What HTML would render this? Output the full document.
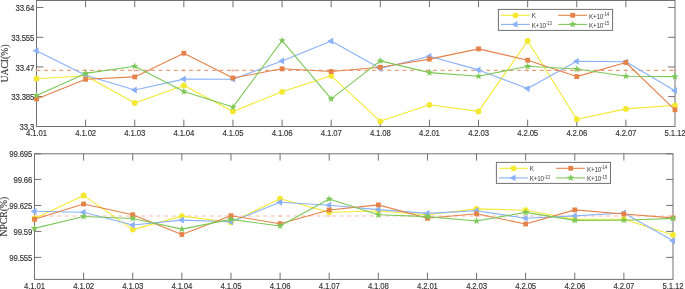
<!DOCTYPE html>
<html><head><meta charset="utf-8"><title>UACI / NPCR</title>
<style>html,body{margin:0;padding:0;background:#fff;}body{width:685px;height:289px;overflow:hidden;}svg{display:block;}</style>
</head><body>
<svg width="685" height="289" viewBox="0 0 685 289">
<style>
.t{font-family:"Liberation Sans",Arial,sans-serif;font-size:7.8px;letter-spacing:-0.15px;fill:#333333;stroke:#333333;stroke-width:0.12px;}
.yl{font-family:"Liberation Serif","Times New Roman",serif;font-size:9.7px;fill:#333333;stroke:#333333;stroke-width:0.15px;}
.lg{font-family:"Liberation Sans",Arial,sans-serif;font-size:6.3px;fill:#3a3a3a;letter-spacing:-0.2px;}
.sp{font-size:4.5px;fill:#4a4a4a;}
</style>
<rect width="685" height="289" fill="#fff"/>
<rect x="36.50" y="0.50" width="638.50" height="126.00" fill="none" stroke="#707070" stroke-width="1"/>
<path d="M85.62 126.50V119.70M85.62 0.50V7.30M134.73 126.50V119.70M134.73 0.50V7.30M183.85 126.50V119.70M183.85 0.50V7.30M232.96 126.50V119.70M232.96 0.50V7.30M282.08 126.50V119.70M282.08 0.50V7.30M331.19 126.50V119.70M331.19 0.50V7.30M380.31 126.50V119.70M380.31 0.50V7.30M429.42 126.50V119.70M429.42 0.50V7.30M478.54 126.50V119.70M478.54 0.50V7.30M527.65 126.50V119.70M527.65 0.50V7.30M576.77 126.50V119.70M576.77 0.50V7.30M625.88 126.50V119.70M625.88 0.50V7.30M36.50 126.50H43.30M675.00 126.50H668.20M36.50 96.60H43.30M675.00 96.60H668.20M36.50 66.95H43.30M675.00 66.95H668.20M36.50 37.30H43.30M675.00 37.30H668.20M36.50 7.45H43.30M675.00 7.45H668.20" stroke="#707070" stroke-width="1" fill="none"/>
<line x1="36.50" y1="70.4" x2="675.00" y2="70.4" stroke="#E9A07E" stroke-width="1.1" stroke-dasharray="3.9 3.725"/>
<path d="M35.20 70.4H37.80M36.50 69.10V71.70" stroke="#E9A07E" stroke-width="0.8"/>
<path d="M84.32 70.4H86.92M85.62 69.10V71.70" stroke="#E9A07E" stroke-width="0.8"/>
<path d="M133.43 70.4H136.03M134.73 69.10V71.70" stroke="#E9A07E" stroke-width="0.8"/>
<path d="M182.55 70.4H185.15M183.85 69.10V71.70" stroke="#E9A07E" stroke-width="0.8"/>
<path d="M231.66 70.4H234.26M232.96 69.10V71.70" stroke="#E9A07E" stroke-width="0.8"/>
<path d="M280.78 70.4H283.38M282.08 69.10V71.70" stroke="#E9A07E" stroke-width="0.8"/>
<path d="M329.89 70.4H332.49M331.19 69.10V71.70" stroke="#E9A07E" stroke-width="0.8"/>
<path d="M379.01 70.4H381.61M380.31 69.10V71.70" stroke="#E9A07E" stroke-width="0.8"/>
<path d="M428.12 70.4H430.72M429.42 69.10V71.70" stroke="#E9A07E" stroke-width="0.8"/>
<path d="M477.24 70.4H479.84M478.54 69.10V71.70" stroke="#E9A07E" stroke-width="0.8"/>
<path d="M526.35 70.4H528.95M527.65 69.10V71.70" stroke="#E9A07E" stroke-width="0.8"/>
<path d="M575.47 70.4H578.07M576.77 69.10V71.70" stroke="#E9A07E" stroke-width="0.8"/>
<path d="M624.58 70.4H627.18M625.88 69.10V71.70" stroke="#E9A07E" stroke-width="0.8"/>
<path d="M673.70 70.4H676.30M675.00 69.10V71.70" stroke="#E9A07E" stroke-width="0.8"/>
<path d="M36.50 78.70 L85.62 75.80 L134.73 103.00 L183.85 85.40 L232.96 111.40 L282.08 91.80 L331.19 75.80 L380.31 121.30 L429.42 104.80 L478.54 111.40 L527.65 41.00 L576.77 119.20 L625.88 108.90 L675.00 105.30" fill="none" stroke="#F4E930" stroke-width="1.1" stroke-linejoin="round"/>
<circle cx="36.50" cy="78.70" r="2.90" fill="#F4E930"/>
<circle cx="85.62" cy="75.80" r="2.90" fill="#F4E930"/>
<circle cx="134.73" cy="103.00" r="2.90" fill="#F4E930"/>
<circle cx="183.85" cy="85.40" r="2.90" fill="#F4E930"/>
<circle cx="232.96" cy="111.40" r="2.90" fill="#F4E930"/>
<circle cx="282.08" cy="91.80" r="2.90" fill="#F4E930"/>
<circle cx="331.19" cy="75.80" r="2.90" fill="#F4E930"/>
<circle cx="380.31" cy="121.30" r="2.90" fill="#F4E930"/>
<circle cx="429.42" cy="104.80" r="2.90" fill="#F4E930"/>
<circle cx="478.54" cy="111.40" r="2.90" fill="#F4E930"/>
<circle cx="527.65" cy="41.00" r="2.90" fill="#F4E930"/>
<circle cx="576.77" cy="119.20" r="2.90" fill="#F4E930"/>
<circle cx="625.88" cy="108.90" r="2.90" fill="#F4E930"/>
<circle cx="675.00" cy="105.30" r="2.90" fill="#F4E930"/>
<path d="M36.50 50.80 L85.62 75.30 L134.73 90.00 L183.85 79.10 L232.96 79.20 L282.08 60.90 L331.19 41.10 L380.31 68.50 L429.42 56.30 L478.54 69.90 L527.65 88.60 L576.77 61.30 L625.88 61.80 L675.00 90.70" fill="none" stroke="#8AB1F9" stroke-width="1.1" stroke-linejoin="round"/>
<path d="M32.50 50.80L38.50 47.40L38.50 54.20Z" fill="#8AB1F9"/>
<path d="M81.62 75.30L87.62 71.90L87.62 78.70Z" fill="#8AB1F9"/>
<path d="M130.73 90.00L136.73 86.60L136.73 93.40Z" fill="#8AB1F9"/>
<path d="M179.85 79.10L185.85 75.70L185.85 82.50Z" fill="#8AB1F9"/>
<path d="M228.96 79.20L234.96 75.80L234.96 82.60Z" fill="#8AB1F9"/>
<path d="M278.08 60.90L284.08 57.50L284.08 64.30Z" fill="#8AB1F9"/>
<path d="M327.19 41.10L333.19 37.70L333.19 44.50Z" fill="#8AB1F9"/>
<path d="M376.31 68.50L382.31 65.10L382.31 71.90Z" fill="#8AB1F9"/>
<path d="M425.42 56.30L431.42 52.90L431.42 59.70Z" fill="#8AB1F9"/>
<path d="M474.54 69.90L480.54 66.50L480.54 73.30Z" fill="#8AB1F9"/>
<path d="M523.65 88.60L529.65 85.20L529.65 92.00Z" fill="#8AB1F9"/>
<path d="M572.77 61.30L578.77 57.90L578.77 64.70Z" fill="#8AB1F9"/>
<path d="M621.88 61.80L627.88 58.40L627.88 65.20Z" fill="#8AB1F9"/>
<path d="M671.00 90.70L677.00 87.30L677.00 94.10Z" fill="#8AB1F9"/>
<path d="M36.50 99.00 L85.62 79.30 L134.73 76.90 L183.85 53.20 L232.96 78.00 L282.08 68.80 L331.19 71.50 L380.31 67.20 L429.42 59.10 L478.54 48.90 L527.65 60.20 L576.77 76.60 L625.88 62.50 L675.00 109.80" fill="none" stroke="#E5824A" stroke-width="1.1" stroke-linejoin="round"/>
<rect x="34.10" y="96.60" width="4.80" height="4.80" fill="#E5824A"/>
<rect x="83.22" y="76.90" width="4.80" height="4.80" fill="#E5824A"/>
<rect x="132.33" y="74.50" width="4.80" height="4.80" fill="#E5824A"/>
<rect x="181.45" y="50.80" width="4.80" height="4.80" fill="#E5824A"/>
<rect x="230.56" y="75.60" width="4.80" height="4.80" fill="#E5824A"/>
<rect x="279.68" y="66.40" width="4.80" height="4.80" fill="#E5824A"/>
<rect x="328.79" y="69.10" width="4.80" height="4.80" fill="#E5824A"/>
<rect x="377.91" y="64.80" width="4.80" height="4.80" fill="#E5824A"/>
<rect x="427.02" y="56.70" width="4.80" height="4.80" fill="#E5824A"/>
<rect x="476.14" y="46.50" width="4.80" height="4.80" fill="#E5824A"/>
<rect x="525.25" y="57.80" width="4.80" height="4.80" fill="#E5824A"/>
<rect x="574.37" y="74.20" width="4.80" height="4.80" fill="#E5824A"/>
<rect x="623.48" y="60.10" width="4.80" height="4.80" fill="#E5824A"/>
<rect x="672.60" y="107.40" width="4.80" height="4.80" fill="#E5824A"/>
<path d="M36.50 95.40 L85.62 73.40 L134.73 66.20 L183.85 91.60 L232.96 107.10 L282.08 40.60 L331.19 98.90 L380.31 60.90 L429.42 72.60 L478.54 76.20 L527.65 66.30 L576.77 69.00 L625.88 76.20 L675.00 76.60" fill="none" stroke="#7DC858" stroke-width="1.1" stroke-linejoin="round"/>
<polygon points="36.50,91.50 37.44,94.11 40.21,94.19 38.02,95.89 38.79,98.56 36.50,97.00 34.21,98.56 34.98,95.89 32.79,94.19 35.56,94.11" fill="#7DC858"/>
<polygon points="85.62,69.50 86.56,72.11 89.32,72.19 87.14,73.89 87.91,76.56 85.62,75.00 83.32,76.56 84.09,73.89 81.91,72.19 84.67,72.11" fill="#7DC858"/>
<polygon points="134.73,62.30 135.67,64.91 138.44,64.99 136.25,66.69 137.02,69.36 134.73,67.80 132.44,69.36 133.21,66.69 131.02,64.99 133.79,64.91" fill="#7DC858"/>
<polygon points="183.85,87.70 184.79,90.31 187.56,90.39 185.37,92.09 186.14,94.76 183.85,93.20 181.55,94.76 182.32,92.09 180.14,90.39 182.91,90.31" fill="#7DC858"/>
<polygon points="232.96,103.20 233.90,105.81 236.67,105.89 234.48,107.59 235.25,110.26 232.96,108.70 230.67,110.26 231.44,107.59 229.25,105.89 232.02,105.81" fill="#7DC858"/>
<polygon points="282.08,36.70 283.02,39.31 285.79,39.39 283.60,41.09 284.37,43.76 282.08,42.20 279.78,43.76 280.56,41.09 278.37,39.39 281.14,39.31" fill="#7DC858"/>
<polygon points="331.19,95.00 332.13,97.61 334.90,97.69 332.71,99.39 333.48,102.06 331.19,100.50 328.90,102.06 329.67,99.39 327.48,97.69 330.25,97.61" fill="#7DC858"/>
<polygon points="380.31,57.00 381.25,59.61 384.02,59.69 381.83,61.39 382.60,64.06 380.31,62.50 378.02,64.06 378.79,61.39 376.60,59.69 379.37,59.61" fill="#7DC858"/>
<polygon points="429.42,68.70 430.36,71.31 433.13,71.39 430.94,73.09 431.72,75.76 429.42,74.20 427.13,75.76 427.90,73.09 425.71,71.39 428.48,71.31" fill="#7DC858"/>
<polygon points="478.54,72.30 479.48,74.91 482.25,74.99 480.06,76.69 480.83,79.36 478.54,77.80 476.25,79.36 477.02,76.69 474.83,74.99 477.60,74.91" fill="#7DC858"/>
<polygon points="527.65,62.40 528.59,65.01 531.36,65.09 529.18,66.79 529.95,69.46 527.65,67.90 525.36,69.46 526.13,66.79 523.94,65.09 526.71,65.01" fill="#7DC858"/>
<polygon points="576.77,65.10 577.71,67.71 580.48,67.79 578.29,69.49 579.06,72.16 576.77,70.60 574.48,72.16 575.25,69.49 573.06,67.79 575.83,67.71" fill="#7DC858"/>
<polygon points="625.88,72.30 626.83,74.91 629.59,74.99 627.41,76.69 628.18,79.36 625.88,77.80 623.59,79.36 624.36,76.69 622.18,74.99 624.94,74.91" fill="#7DC858"/>
<polygon points="675.00,72.70 675.94,75.31 678.71,75.39 676.52,77.09 677.29,79.76 675.00,78.20 672.71,79.76 673.48,77.09 671.29,75.39 674.06,75.31" fill="#7DC858"/>
<text transform="translate(36.50 136.10) scale(1 1.08)" text-anchor="middle" class="t">4.1.01</text>
<text transform="translate(85.62 136.10) scale(1 1.08)" text-anchor="middle" class="t">4.1.02</text>
<text transform="translate(134.73 136.10) scale(1 1.08)" text-anchor="middle" class="t">4.1.03</text>
<text transform="translate(183.85 136.10) scale(1 1.08)" text-anchor="middle" class="t">4.1.04</text>
<text transform="translate(232.96 136.10) scale(1 1.08)" text-anchor="middle" class="t">4.1.05</text>
<text transform="translate(282.08 136.10) scale(1 1.08)" text-anchor="middle" class="t">4.1.06</text>
<text transform="translate(331.19 136.10) scale(1 1.08)" text-anchor="middle" class="t">4.1.07</text>
<text transform="translate(380.31 136.10) scale(1 1.08)" text-anchor="middle" class="t">4.1.08</text>
<text transform="translate(429.42 136.10) scale(1 1.08)" text-anchor="middle" class="t">4.2.01</text>
<text transform="translate(478.54 136.10) scale(1 1.08)" text-anchor="middle" class="t">4.2.03</text>
<text transform="translate(527.65 136.10) scale(1 1.08)" text-anchor="middle" class="t">4.2.05</text>
<text transform="translate(576.77 136.10) scale(1 1.08)" text-anchor="middle" class="t">4.2.06</text>
<text transform="translate(625.88 136.10) scale(1 1.08)" text-anchor="middle" class="t">4.2.07</text>
<text transform="translate(675.00 136.10) scale(1 1.08)" text-anchor="middle" class="t">5.1.12</text>
<text transform="translate(34.20 130.05) scale(1 1.08)" text-anchor="end" class="t">33.3</text>
<text transform="translate(34.20 100.15) scale(1 1.08)" text-anchor="end" class="t">33.385</text>
<text transform="translate(34.20 70.50) scale(1 1.08)" text-anchor="end" class="t">33.47</text>
<text transform="translate(34.20 40.85) scale(1 1.08)" text-anchor="end" class="t">33.555</text>
<text transform="translate(34.20 11.00) scale(1 1.08)" text-anchor="end" class="t">33.64</text>
<text transform="translate(8.30 63.50) rotate(-90)" text-anchor="middle" class="yl">UACI(%)</text>
<rect x="498.40" y="9.40" width="114.20" height="21.00" fill="#fff" stroke="#707070" stroke-width="1"/>
<line x1="501.00" y1="15.30" x2="529.80" y2="15.30" stroke="#F4E930" stroke-width="1.1"/>
<circle cx="515.50" cy="15.30" r="2.90" fill="#F4E930"/>
<text x="531.80" y="17.60" class="lg">K</text>
<line x1="501.00" y1="24.40" x2="529.80" y2="24.40" stroke="#8AB1F9" stroke-width="1.1"/>
<path d="M511.50 24.40L517.50 21.00L517.50 27.80Z" fill="#8AB1F9"/>
<text x="531.80" y="27.80" class="lg">K+10<tspan dy="-2.7" class="sp">-13</tspan></text>
<line x1="558.20" y1="15.30" x2="587.00" y2="15.30" stroke="#E5824A" stroke-width="1.1"/>
<rect x="570.30" y="12.90" width="4.80" height="4.80" fill="#E5824A"/>
<text x="589.00" y="18.70" class="lg">K+10<tspan dy="-2.7" class="sp">-14</tspan></text>
<line x1="558.20" y1="24.40" x2="587.00" y2="24.40" stroke="#7DC858" stroke-width="1.1"/>
<polygon points="572.70,20.50 573.64,23.11 576.41,23.19 574.22,24.89 574.99,27.56 572.70,26.00 570.41,27.56 571.18,24.89 568.99,23.19 571.76,23.11" fill="#7DC858"/>
<text x="589.00" y="27.80" class="lg">K+10<tspan dy="-2.7" class="sp">-15</tspan></text>
<rect x="34.50" y="153.80" width="638.50" height="125.60" fill="none" stroke="#707070" stroke-width="1"/>
<path d="M83.62 279.40V272.60M83.62 153.80V160.60M132.73 279.40V272.60M132.73 153.80V160.60M181.85 279.40V272.60M181.85 153.80V160.60M230.96 279.40V272.60M230.96 153.80V160.60M280.08 279.40V272.60M280.08 153.80V160.60M329.19 279.40V272.60M329.19 153.80V160.60M378.31 279.40V272.60M378.31 153.80V160.60M427.42 279.40V272.60M427.42 153.80V160.60M476.54 279.40V272.60M476.54 153.80V160.60M525.65 279.40V272.60M525.65 153.80V160.60M574.77 279.40V272.60M574.77 153.80V160.60M623.88 279.40V272.60M623.88 153.80V160.60M34.50 153.80H41.30M673.00 153.80H666.20M34.50 179.40H41.30M673.00 179.40H666.20M34.50 205.40H41.30M673.00 205.40H666.20M34.50 231.40H41.30M673.00 231.40H666.20M34.50 257.40H41.30M673.00 257.40H666.20" stroke="#707070" stroke-width="1" fill="none"/>
<line x1="34.50" y1="216.0" x2="673.00" y2="216.0" stroke="#F7BBA8" stroke-width="1.1" stroke-dasharray="3.9 3.725"/>
<path d="M33.20 216.0H35.80M34.50 214.70V217.30" stroke="#F7BBA8" stroke-width="0.8"/>
<path d="M82.32 216.0H84.92M83.62 214.70V217.30" stroke="#F7BBA8" stroke-width="0.8"/>
<path d="M131.43 216.0H134.03M132.73 214.70V217.30" stroke="#F7BBA8" stroke-width="0.8"/>
<path d="M180.55 216.0H183.15M181.85 214.70V217.30" stroke="#F7BBA8" stroke-width="0.8"/>
<path d="M229.66 216.0H232.26M230.96 214.70V217.30" stroke="#F7BBA8" stroke-width="0.8"/>
<path d="M278.78 216.0H281.38M280.08 214.70V217.30" stroke="#F7BBA8" stroke-width="0.8"/>
<path d="M327.89 216.0H330.49M329.19 214.70V217.30" stroke="#F7BBA8" stroke-width="0.8"/>
<path d="M377.01 216.0H379.61M378.31 214.70V217.30" stroke="#F7BBA8" stroke-width="0.8"/>
<path d="M426.12 216.0H428.72M427.42 214.70V217.30" stroke="#F7BBA8" stroke-width="0.8"/>
<path d="M475.24 216.0H477.84M476.54 214.70V217.30" stroke="#F7BBA8" stroke-width="0.8"/>
<path d="M524.35 216.0H526.95M525.65 214.70V217.30" stroke="#F7BBA8" stroke-width="0.8"/>
<path d="M573.47 216.0H576.07M574.77 214.70V217.30" stroke="#F7BBA8" stroke-width="0.8"/>
<path d="M622.58 216.0H625.18M623.88 214.70V217.30" stroke="#F7BBA8" stroke-width="0.8"/>
<path d="M671.70 216.0H674.30M673.00 214.70V217.30" stroke="#F7BBA8" stroke-width="0.8"/>
<path d="M34.50 218.50 L83.62 195.40 L132.73 229.60 L181.85 216.10 L230.96 222.30 L280.08 198.70 L329.19 212.20 L378.31 211.00 L427.42 214.70 L476.54 208.90 L525.65 210.20 L574.77 219.20 L623.88 219.20 L673.00 235.00" fill="none" stroke="#F4E930" stroke-width="1.1" stroke-linejoin="round"/>
<circle cx="34.50" cy="218.50" r="2.90" fill="#F4E930"/>
<circle cx="83.62" cy="195.40" r="2.90" fill="#F4E930"/>
<circle cx="132.73" cy="229.60" r="2.90" fill="#F4E930"/>
<circle cx="181.85" cy="216.10" r="2.90" fill="#F4E930"/>
<circle cx="230.96" cy="222.30" r="2.90" fill="#F4E930"/>
<circle cx="280.08" cy="198.70" r="2.90" fill="#F4E930"/>
<circle cx="329.19" cy="212.20" r="2.90" fill="#F4E930"/>
<circle cx="378.31" cy="211.00" r="2.90" fill="#F4E930"/>
<circle cx="427.42" cy="214.70" r="2.90" fill="#F4E930"/>
<circle cx="476.54" cy="208.90" r="2.90" fill="#F4E930"/>
<circle cx="525.65" cy="210.20" r="2.90" fill="#F4E930"/>
<circle cx="574.77" cy="219.20" r="2.90" fill="#F4E930"/>
<circle cx="623.88" cy="219.20" r="2.90" fill="#F4E930"/>
<circle cx="673.00" cy="235.00" r="2.90" fill="#F4E930"/>
<path d="M34.50 211.30 L83.62 212.30 L132.73 225.00 L181.85 220.10 L230.96 221.80 L280.08 202.30 L329.19 205.20 L378.31 209.60 L427.42 213.40 L476.54 210.70 L525.65 218.30 L574.77 215.90 L623.88 213.00 L673.00 240.80" fill="none" stroke="#8AB1F9" stroke-width="1.1" stroke-linejoin="round"/>
<path d="M30.50 211.30L36.50 207.90L36.50 214.70Z" fill="#8AB1F9"/>
<path d="M79.62 212.30L85.62 208.90L85.62 215.70Z" fill="#8AB1F9"/>
<path d="M128.73 225.00L134.73 221.60L134.73 228.40Z" fill="#8AB1F9"/>
<path d="M177.85 220.10L183.85 216.70L183.85 223.50Z" fill="#8AB1F9"/>
<path d="M226.96 221.80L232.96 218.40L232.96 225.20Z" fill="#8AB1F9"/>
<path d="M276.08 202.30L282.08 198.90L282.08 205.70Z" fill="#8AB1F9"/>
<path d="M325.19 205.20L331.19 201.80L331.19 208.60Z" fill="#8AB1F9"/>
<path d="M374.31 209.60L380.31 206.20L380.31 213.00Z" fill="#8AB1F9"/>
<path d="M423.42 213.40L429.42 210.00L429.42 216.80Z" fill="#8AB1F9"/>
<path d="M472.54 210.70L478.54 207.30L478.54 214.10Z" fill="#8AB1F9"/>
<path d="M521.65 218.30L527.65 214.90L527.65 221.70Z" fill="#8AB1F9"/>
<path d="M570.77 215.90L576.77 212.50L576.77 219.30Z" fill="#8AB1F9"/>
<path d="M619.88 213.00L625.88 209.60L625.88 216.40Z" fill="#8AB1F9"/>
<path d="M669.00 240.80L675.00 237.40L675.00 244.20Z" fill="#8AB1F9"/>
<path d="M34.50 219.30 L83.62 204.00 L132.73 214.70 L181.85 234.50 L230.96 215.70 L280.08 223.70 L329.19 210.00 L378.31 204.90 L427.42 218.30 L476.54 213.80 L525.65 224.00 L574.77 209.90 L623.88 214.00 L673.00 217.90" fill="none" stroke="#E5824A" stroke-width="1.1" stroke-linejoin="round"/>
<rect x="32.10" y="216.90" width="4.80" height="4.80" fill="#E5824A"/>
<rect x="81.22" y="201.60" width="4.80" height="4.80" fill="#E5824A"/>
<rect x="130.33" y="212.30" width="4.80" height="4.80" fill="#E5824A"/>
<rect x="179.45" y="232.10" width="4.80" height="4.80" fill="#E5824A"/>
<rect x="228.56" y="213.30" width="4.80" height="4.80" fill="#E5824A"/>
<rect x="277.68" y="221.30" width="4.80" height="4.80" fill="#E5824A"/>
<rect x="326.79" y="207.60" width="4.80" height="4.80" fill="#E5824A"/>
<rect x="375.91" y="202.50" width="4.80" height="4.80" fill="#E5824A"/>
<rect x="425.02" y="215.90" width="4.80" height="4.80" fill="#E5824A"/>
<rect x="474.14" y="211.40" width="4.80" height="4.80" fill="#E5824A"/>
<rect x="523.25" y="221.60" width="4.80" height="4.80" fill="#E5824A"/>
<rect x="572.37" y="207.50" width="4.80" height="4.80" fill="#E5824A"/>
<rect x="621.48" y="211.60" width="4.80" height="4.80" fill="#E5824A"/>
<rect x="670.60" y="215.50" width="4.80" height="4.80" fill="#E5824A"/>
<path d="M34.50 228.40 L83.62 216.50 L132.73 218.50 L181.85 229.10 L230.96 219.40 L280.08 226.00 L329.19 199.00 L378.31 214.80 L427.42 216.60 L476.54 221.00 L525.65 212.40 L574.77 220.40 L623.88 220.20 L673.00 218.40" fill="none" stroke="#7DC858" stroke-width="1.1" stroke-linejoin="round"/>
<polygon points="34.50,224.50 35.44,227.11 38.21,227.19 36.02,228.89 36.79,231.56 34.50,230.00 32.21,231.56 32.98,228.89 30.79,227.19 33.56,227.11" fill="#7DC858"/>
<polygon points="83.62,212.60 84.56,215.21 87.32,215.29 85.14,216.99 85.91,219.66 83.62,218.10 81.32,219.66 82.09,216.99 79.91,215.29 82.67,215.21" fill="#7DC858"/>
<polygon points="132.73,214.60 133.67,217.21 136.44,217.29 134.25,218.99 135.02,221.66 132.73,220.10 130.44,221.66 131.21,218.99 129.02,217.29 131.79,217.21" fill="#7DC858"/>
<polygon points="181.85,225.20 182.79,227.81 185.56,227.89 183.37,229.59 184.14,232.26 181.85,230.70 179.55,232.26 180.32,229.59 178.14,227.89 180.91,227.81" fill="#7DC858"/>
<polygon points="230.96,215.50 231.90,218.11 234.67,218.19 232.48,219.89 233.25,222.56 230.96,221.00 228.67,222.56 229.44,219.89 227.25,218.19 230.02,218.11" fill="#7DC858"/>
<polygon points="280.08,222.10 281.02,224.71 283.79,224.79 281.60,226.49 282.37,229.16 280.08,227.60 277.78,229.16 278.56,226.49 276.37,224.79 279.14,224.71" fill="#7DC858"/>
<polygon points="329.19,195.10 330.13,197.71 332.90,197.79 330.71,199.49 331.48,202.16 329.19,200.60 326.90,202.16 327.67,199.49 325.48,197.79 328.25,197.71" fill="#7DC858"/>
<polygon points="378.31,210.90 379.25,213.51 382.02,213.59 379.83,215.29 380.60,217.96 378.31,216.40 376.02,217.96 376.79,215.29 374.60,213.59 377.37,213.51" fill="#7DC858"/>
<polygon points="427.42,212.70 428.36,215.31 431.13,215.39 428.94,217.09 429.72,219.76 427.42,218.20 425.13,219.76 425.90,217.09 423.71,215.39 426.48,215.31" fill="#7DC858"/>
<polygon points="476.54,217.10 477.48,219.71 480.25,219.79 478.06,221.49 478.83,224.16 476.54,222.60 474.25,224.16 475.02,221.49 472.83,219.79 475.60,219.71" fill="#7DC858"/>
<polygon points="525.65,208.50 526.59,211.11 529.36,211.19 527.18,212.89 527.95,215.56 525.65,214.00 523.36,215.56 524.13,212.89 521.94,211.19 524.71,211.11" fill="#7DC858"/>
<polygon points="574.77,216.50 575.71,219.11 578.48,219.19 576.29,220.89 577.06,223.56 574.77,222.00 572.48,223.56 573.25,220.89 571.06,219.19 573.83,219.11" fill="#7DC858"/>
<polygon points="623.88,216.30 624.83,218.91 627.59,218.99 625.41,220.69 626.18,223.36 623.88,221.80 621.59,223.36 622.36,220.69 620.18,218.99 622.94,218.91" fill="#7DC858"/>
<polygon points="673.00,214.50 673.94,217.11 676.71,217.19 674.52,218.89 675.29,221.56 673.00,220.00 670.71,221.56 671.48,218.89 669.29,217.19 672.06,217.11" fill="#7DC858"/>
<text transform="translate(34.50 289.00) scale(1 1.08)" text-anchor="middle" class="t">4.1.01</text>
<text transform="translate(83.62 289.00) scale(1 1.08)" text-anchor="middle" class="t">4.1.02</text>
<text transform="translate(132.73 289.00) scale(1 1.08)" text-anchor="middle" class="t">4.1.03</text>
<text transform="translate(181.85 289.00) scale(1 1.08)" text-anchor="middle" class="t">4.1.04</text>
<text transform="translate(230.96 289.00) scale(1 1.08)" text-anchor="middle" class="t">4.1.05</text>
<text transform="translate(280.08 289.00) scale(1 1.08)" text-anchor="middle" class="t">4.1.06</text>
<text transform="translate(329.19 289.00) scale(1 1.08)" text-anchor="middle" class="t">4.1.07</text>
<text transform="translate(378.31 289.00) scale(1 1.08)" text-anchor="middle" class="t">4.1.08</text>
<text transform="translate(427.42 289.00) scale(1 1.08)" text-anchor="middle" class="t">4.2.01</text>
<text transform="translate(476.54 289.00) scale(1 1.08)" text-anchor="middle" class="t">4.2.03</text>
<text transform="translate(525.65 289.00) scale(1 1.08)" text-anchor="middle" class="t">4.2.05</text>
<text transform="translate(574.77 289.00) scale(1 1.08)" text-anchor="middle" class="t">4.2.06</text>
<text transform="translate(623.88 289.00) scale(1 1.08)" text-anchor="middle" class="t">4.2.07</text>
<text transform="translate(673.00 289.00) scale(1 1.08)" text-anchor="middle" class="t">5.1.12</text>
<text transform="translate(32.20 157.35) scale(1 1.08)" text-anchor="end" class="t">99.695</text>
<text transform="translate(32.20 182.95) scale(1 1.08)" text-anchor="end" class="t">99.66</text>
<text transform="translate(32.20 208.95) scale(1 1.08)" text-anchor="end" class="t">99.625</text>
<text transform="translate(32.20 234.95) scale(1 1.08)" text-anchor="end" class="t">99.59</text>
<text transform="translate(32.20 260.95) scale(1 1.08)" text-anchor="end" class="t">99.555</text>
<text transform="translate(6.50 216.60) rotate(-90)" text-anchor="middle" class="yl">NPCR(%)</text>
<rect x="496.40" y="162.40" width="114.10" height="21.00" fill="#fff" stroke="#707070" stroke-width="1"/>
<line x1="499.00" y1="168.30" x2="527.80" y2="168.30" stroke="#F4E930" stroke-width="1.1"/>
<circle cx="513.50" cy="168.30" r="2.90" fill="#F4E930"/>
<text x="529.80" y="170.60" class="lg">K</text>
<line x1="499.00" y1="177.90" x2="527.80" y2="177.90" stroke="#8AB1F9" stroke-width="1.1"/>
<path d="M509.50 177.90L515.50 174.50L515.50 181.30Z" fill="#8AB1F9"/>
<text x="529.80" y="181.30" class="lg">K+10<tspan dy="-2.7" class="sp">-13</tspan></text>
<line x1="556.20" y1="168.30" x2="585.00" y2="168.30" stroke="#E5824A" stroke-width="1.1"/>
<rect x="568.30" y="165.90" width="4.80" height="4.80" fill="#E5824A"/>
<text x="587.00" y="171.70" class="lg">K+10<tspan dy="-2.7" class="sp">-14</tspan></text>
<line x1="556.20" y1="177.90" x2="585.00" y2="177.90" stroke="#7DC858" stroke-width="1.1"/>
<polygon points="570.70,174.00 571.64,176.61 574.41,176.69 572.22,178.39 572.99,181.06 570.70,179.50 568.41,181.06 569.18,178.39 566.99,176.69 569.76,176.61" fill="#7DC858"/>
<text x="587.00" y="181.30" class="lg">K+10<tspan dy="-2.7" class="sp">-15</tspan></text>
</svg>
</body></html>
